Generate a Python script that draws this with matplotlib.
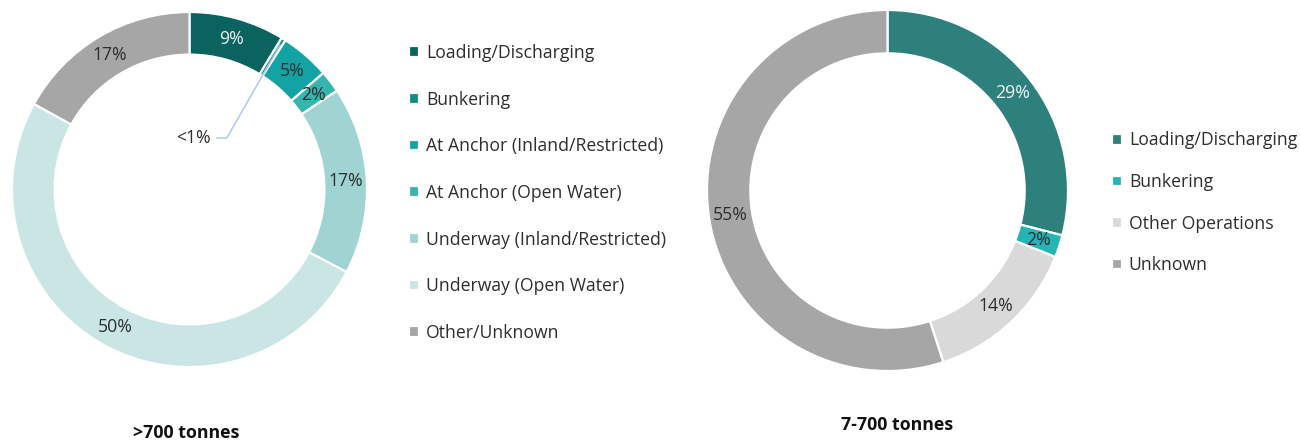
import numpy as np
import matplotlib.pyplot as plt

plt.rcParams['font.family'] = ['Open Sans', 'DejaVu Sans']

# left donut: >700 tonnes
big_cats = ["Loading/Discharging", "Bunkering", "At Anchor (Inland/Restricted)",
            "At Anchor (Open Water)", "Underway (Inland/Restricted)",
            "Underway (Open Water)", "Other/Unknown"]
big_vals = [8.7, 0.4, 4.5, 2.0, 17.1, 50.3, 17.0]
big_text = ["9%", "<1%", "5%", "2%", "17%", "50%", "17%"]
big_colors = ["#0a635e", "#178a84", "#14a3a5", "#35b5ad", "#9fd4d3", "#c9e5e4", "#a6a6a6"]

# right donut: 7-700 tonnes
small_cats = ["Loading/Discharging", "Bunkering", "Other Operations", "Unknown"]
small_vals = [29, 2, 14, 55]
small_text = ["29%", "2%", "14%", "55%"]
small_colors = ["#2e807d", "#23b4b6", "#d9d9d9", "#a6a6a6"]

W, H = 1300, 441
FS = 12.7
fig = plt.figure(figsize=(W / 100, H / 100), dpi=100)


def donut_axes(cx, cy, r):
    return fig.add_axes([(cx - r) / W, 1 - (cy + r) / H, 2 * r / W, 2 * r / H])


def draw_donut(ax, vals, colors, texts, light_idx, skip_idx=()):
    wedges, _ = ax.pie(vals, colors=colors, startangle=90, counterclock=False,
                       radius=1.0, wedgeprops=dict(width=0.24, edgecolor="white", linewidth=1.6))
    for i, w in enumerate(wedges):
        if i in skip_idx:
            continue
        ang = np.deg2rad((w.theta1 + w.theta2) / 2)
        col = "#eef4f3" if i in light_idx else "#2e2e2e"
        ax.text(0.88 * np.cos(ang), 0.88 * np.sin(ang), texts[i], ha="center", va="center",
                fontsize=FS, color=col)
    ax.set_xlim(-1, 1)
    ax.set_ylim(-1, 1)
    ax.axis("off")
    return wedges


ax1 = donut_axes(189.5, 189.5, 177.5)
w1 = draw_donut(ax1, big_vals, big_colors, big_text, light_idx=(0,), skip_idx=(1,))

# leader line for the tiny Bunkering slice
a = np.deg2rad((w1[1].theta1 + w1[1].theta2) / 2)
ax1.plot([0.96 * np.cos(a), 0.21, 0.155], [0.96 * np.sin(a), 0.29, 0.29],
         color="#a9c4ea", lw=1.0)
ax1.text(0.12, 0.29, big_text[1], ha="right", va="center", fontsize=FS, color="#2e2e2e")

ax2 = donut_axes(887.5, 190.5, 180.5)
w2 = draw_donut(ax2, small_vals, small_colors, small_text, light_idx=(0,))

leg_kw = dict(loc="upper left", frameon=False, fontsize=FS, handlelength=0.55,
              handleheight=0.55, handletextpad=0.4, borderpad=0, borderaxespad=0,
              labelcolor="#2e2e2e")
fig.legend(w1, big_cats, bbox_to_anchor=(409 / W, 1 - 44 / H), labelspacing=1.625, **leg_kw)
fig.legend(w2, small_cats, bbox_to_anchor=(1112 / W, 1 - 131.5 / H), labelspacing=1.34, **leg_kw)

fig.text(186 / W, 1 - 433 / H, ">700 tonnes", ha="center", va="center",
         fontsize=12.8, fontweight="bold", color="#111111")
fig.text(897 / W, 1 - 425 / H, "7-700 tonnes", ha="center", va="center",
         fontsize=12.8, fontweight="bold", color="#111111")

fig.savefig("out.png", dpi=100)
